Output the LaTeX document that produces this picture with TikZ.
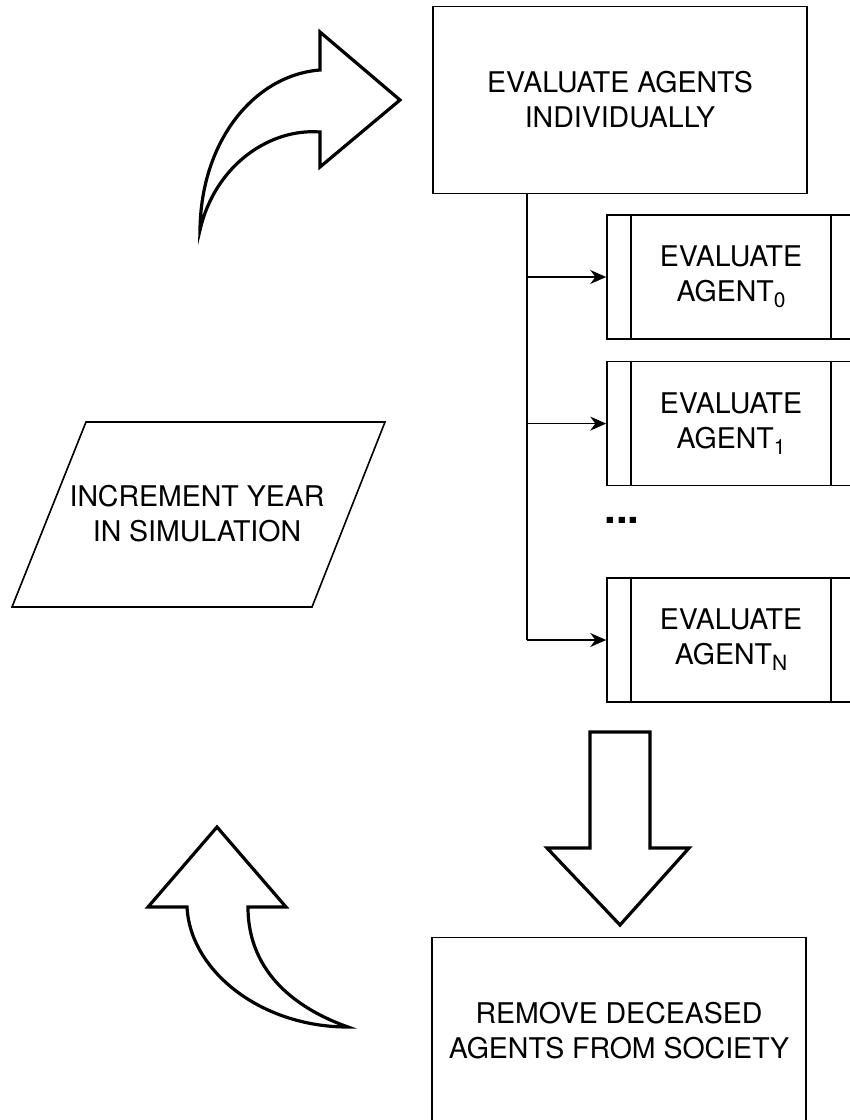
\documentclass[tikz,border=0pt]{standalone}
\usepackage{fontspec}
\setmainfont{TeX Gyre Heros}
\usetikzlibrary{arrows.meta, positioning}

\newcommand{\idx}[1]{\raisebox{-6pt}{\fontsize{21}{21}\selectfont #1}}

\tikzset{
  box/.style={draw, line width=1.6pt, minimum width=374pt, minimum height=187pt, align=center, inner sep=0pt},
  subbox/.style={draw, line width=1.6pt, minimum width=248pt, minimum height=124pt, align=center, inner sep=0pt},
  bigarrow/.style={draw, line width=3.2pt, fill=white},
  thin/.style={line width=1.6pt}
}

\begin{document}
\begin{tikzpicture}[x=1pt,y=-1pt,>={Stealth[length=16pt,width=14pt]},font=\fontsize{28.5}{35}\selectfont]
\useasboundingbox (0,0) rectangle (850,1120);
%Knoten
\node (eval) [box] at (620,100) {EVALUATE AGENTS\\INDIVIDUALLY};
\node (a0) [subbox] at (731,277) {EVALUATE\\AGENT\idx{0}};
\node (a1) [subbox, below=21pt of a0] {EVALUATE\\AGENT\idx{1}};
\node (dots) at (622,520) {\fontsize{42}{42}\selectfont\bfseries ...};
\node (aN) [subbox] at (731,640) {EVALUATE\\AGENT\idx{N}};
\node (remove) [box] at (619,1031) {REMOVE DECEASED\\AGENTS FROM SOCIETY};
\node (incr) [align=center] at (197,514) {INCREMENT YEAR\\IN SIMULATION};

%Seitenbalken
\foreach \a in {a0,a1,aN} {
  \draw[thin] ([xshift=25pt]\a.north west) -- ([xshift=25pt]\a.south west);
  \draw[thin] ([xshift=-25pt]\a.north east) -- ([xshift=-25pt]\a.south east);
}

%Parallelogramm
\draw[thin] (86,422) -- (385,422) -- (312,607) -- (12,607) -- cycle;

%Verbindungen
\coordinate (trunk) at ([xshift=95pt]eval.south west);
\draw[thin] (trunk) -- (trunk |- aN.west);
\foreach \a in {a0,a1,aN}
  \draw[thin,->] (trunk |- \a.west) -- (\a.west);

%Blockpfeile
\draw[bigarrow] (590,732) -- (650,732) -- (650,848) -- (689,848) -- (620,925)
  -- (547,848) -- (590,848) -- cycle;
\draw[bigarrow] (200,230) .. controls (201,140) and (255,75) .. (320,70)
  -- (320,32) -- (400,100) -- (320,167) -- (320,132)
  .. controls (270,128) and (215,165) .. (200,230) -- cycle;
\draw[bigarrow] (187,907) -- (148,907) -- (217,827) -- (286,907) -- (248,907)
  .. controls (248,975) and (300,1010) .. (348,1027)
  .. controls (260,1027) and (190,970) .. (187,907) -- cycle;
\end{tikzpicture}
\end{document}
